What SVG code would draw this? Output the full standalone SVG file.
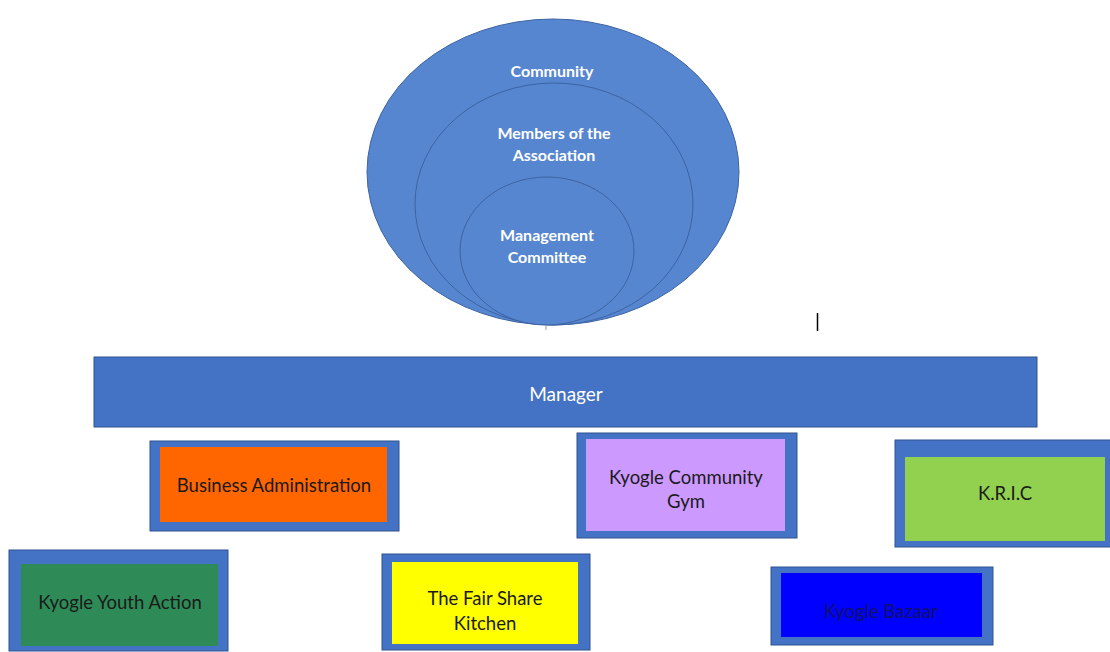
<svg xmlns="http://www.w3.org/2000/svg" width="1110" height="652" viewBox="0 0 1110 652">
<style>
.ell{fill:#5686D0;stroke:#3D63A3;stroke-width:1}
.wt{font-family:Lato,"Liberation Sans",sans-serif;font-weight:bold;font-size:16px;fill:#fff;text-anchor:middle}
.outer{fill:#4472C4;stroke:#2F528F;stroke-width:1}
.lbl{font-family:Lato,"Liberation Sans",sans-serif;font-size:18.5px;fill:#1a1a1a;text-anchor:middle}
</style>
<rect width="1110" height="652" fill="#fff"/>
<g id="community">
<ellipse class="ell" cx="553" cy="172" rx="186" ry="153"/>
<text class="wt" x="552" y="77">Community</text>
</g>
<g id="members">
<ellipse class="ell" cx="554" cy="204" rx="139" ry="121"/>
<text class="wt" x="554" y="139">Members of the</text>
<text class="wt" x="554" y="161">Association</text>
</g>
<g id="committee">
<ellipse class="ell" cx="547" cy="251" rx="87" ry="74"/>
<text class="wt" x="547" y="241">Management</text>
<text class="wt" x="547" y="263">Committee</text>
</g>
<g id="connectors">
<line x1="546" y1="325" x2="546" y2="330" stroke="#999" stroke-width="1"/>
<line x1="817.5" y1="313" x2="817.5" y2="331" stroke="#000" stroke-width="1.5"/>
</g>
<g id="manager">
<rect class="outer" x="94" y="357" width="943" height="70"/>
<text x="566" y="401" font-family="Lato,'Liberation Sans',sans-serif" font-size="19" fill="#fff" text-anchor="middle">Manager</text>
</g>
<g id="business-admin">
<rect class="outer" x="150" y="441" width="249" height="90"/>
<rect x="160" y="447" width="227" height="75" fill="#FF6600"/>
<text class="lbl" x="274" y="492">Business Administration</text>
</g>
<g id="gym">
<rect class="outer" x="577" y="433" width="220" height="105"/>
<rect x="586" y="439" width="199" height="92" fill="#CC99FF"/>
<text class="lbl" x="686" y="484">Kyogle Community</text>
<text class="lbl" x="686" y="508">Gym</text>
</g>
<g id="kric">
<rect class="outer" x="895" y="440" width="216" height="107"/>
<rect x="905" y="457" width="200" height="84" fill="#92D050"/>
<text class="lbl" x="1005" y="500">K.R.I.C</text>
</g>
<g id="youth-action">
<rect class="outer" x="9" y="550" width="219" height="101"/>
<rect x="21" y="564" width="197" height="82" fill="#2E8B57"/>
<text class="lbl" x="120" y="609">Kyogle Youth Action</text>
</g>
<g id="fair-share">
<rect class="outer" x="382" y="554" width="208" height="96"/>
<rect x="392" y="562" width="186" height="82" fill="#FFFF00"/>
<text class="lbl" x="485" y="605">The Fair Share</text>
<text class="lbl" x="485" y="630">Kitchen</text>
</g>
<g id="bazaar">
<rect class="outer" x="771" y="567" width="222" height="78"/>
<rect x="781" y="573" width="201" height="64" fill="#0000FF"/>
<text class="lbl" x="881" y="618" style="fill:#10106a">Kyogle Bazaar</text>
</g>
</svg>
